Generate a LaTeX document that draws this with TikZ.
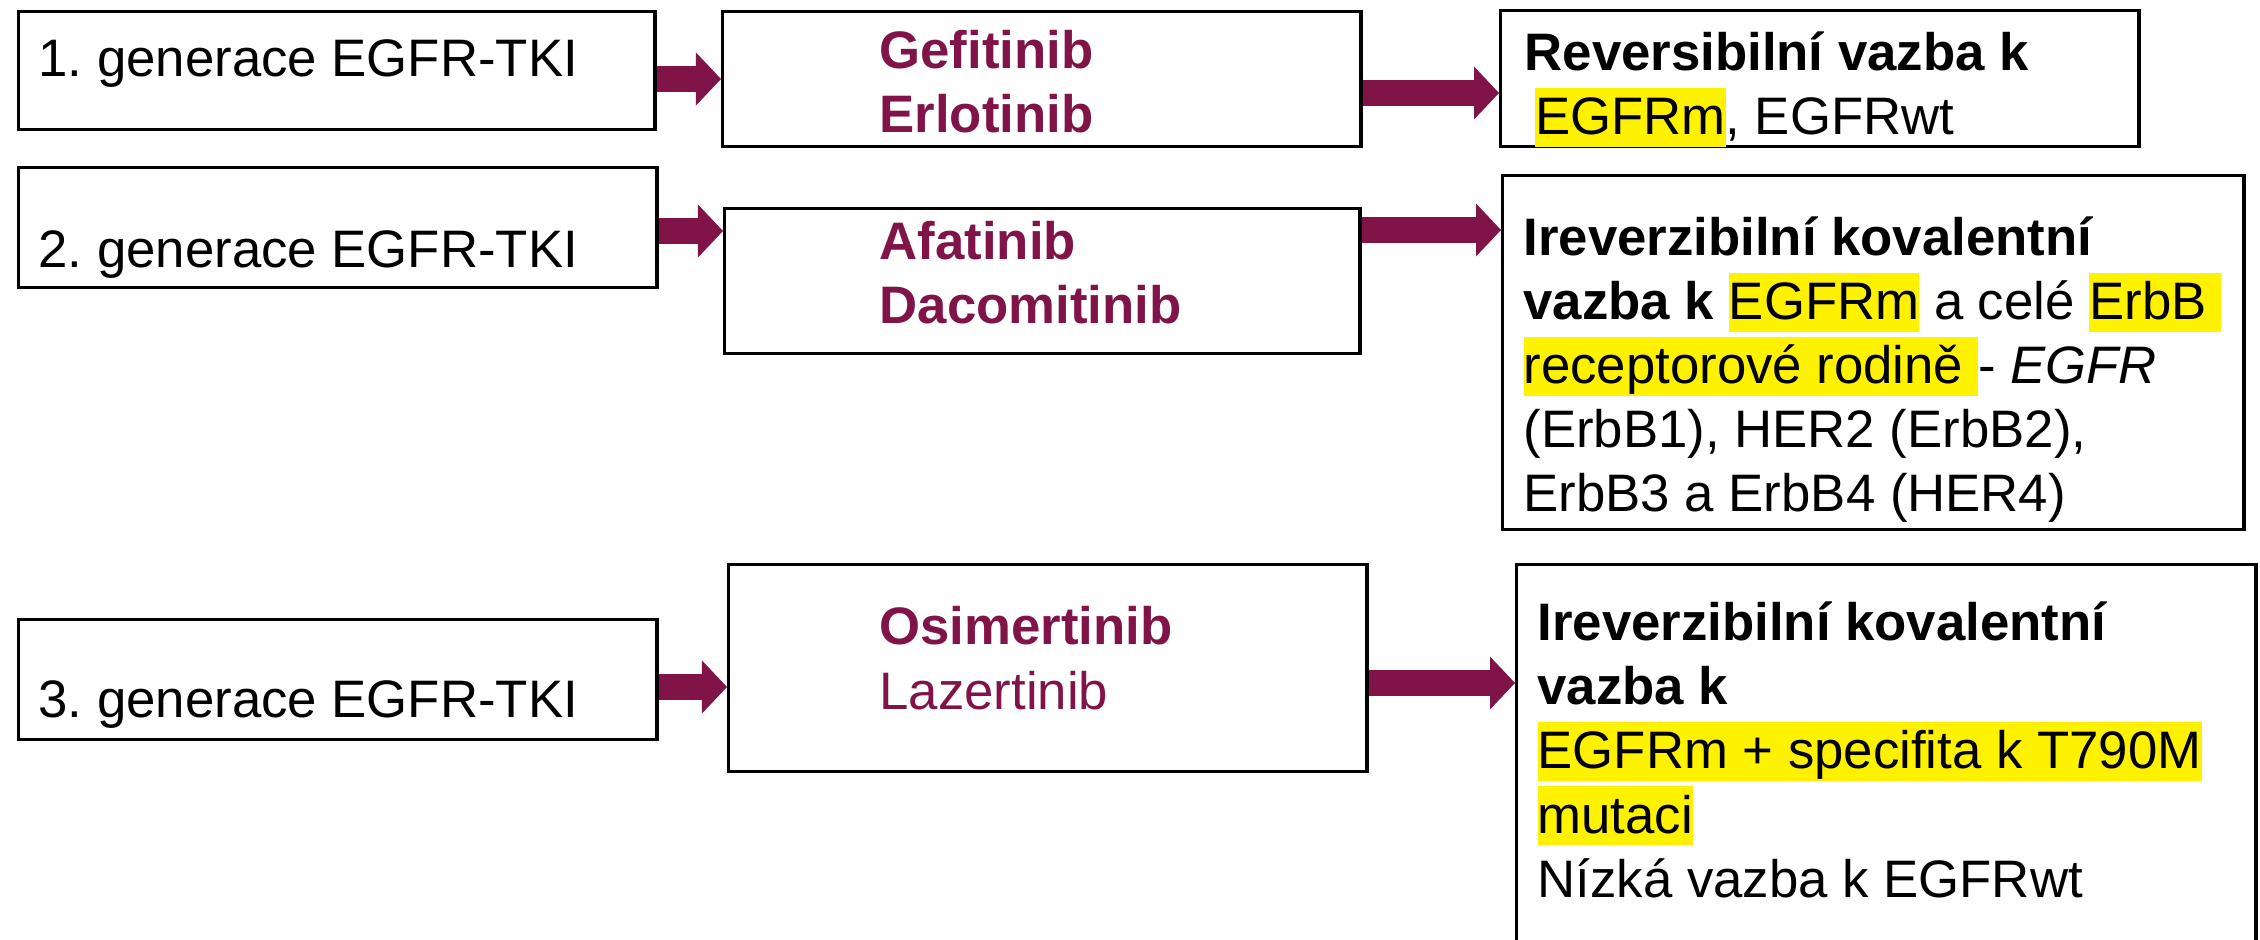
\documentclass[tikz,border=0pt]{standalone}
\usepackage{fontspec}
\setmainfont{Liberation Sans}
\usetikzlibrary{arrows.meta}
\definecolor{drug}{RGB}{128,20,72}
\newcommand{\hl}[1]{{\setlength{\fboxsep}{0pt}\colorbox{yellow}{\rule[-0.23em]{0pt}{1.13em}#1}}}
\frenchspacing

\begin{document}
\begin{tikzpicture}[x=0.01cm, y=-0.01cm, line width=0.9pt,
  box/.style={draw, anchor=north west, inner sep=0pt},
  txt/.style={anchor=base west, align=left, inner sep=0pt, font=\fontsize{15pt}{18.2pt}\selectfont},
  fwd/.style={draw=drug, line width=0.26cm, -{Triangle[length=0.25cm, width=0.53cm, line width=0pt]}}]
  \clip (0,0) rectangle (2260,940);

  \node[box, minimum width=6.36cm, minimum height=1.18cm] (gen1) at (17,10) {};
  \node[box, minimum width=6.38cm, minimum height=1.2cm] (gen2) at (17,166) {};
  \node[box, minimum width=6.38cm, minimum height=1.2cm] (gen3) at (17,618) {};
  \node[txt] (gen1t) at (37,77) {1. generace EGFR-TKI};
  \node[txt] (gen2t) at (37,268) {2. generace EGFR-TKI};
  \node[txt] (gen3t) at (37,717) {3. generace EGFR-TKI};

  \node[box, minimum width=6.38cm, minimum height=1.35cm] (drug1) at (721,10) {};
  \node[box, minimum width=6.35cm, minimum height=1.45cm] (drug2) at (723,207) {};
  \node[box, minimum width=6.38cm, minimum height=2.07cm] (drug3) at (727,563) {};
  \node[txt, text=drug] (drug1t) at (878,133) {\textbf{Gefitinib}\\\textbf{Erlotinib}};
  \node[txt, text=drug] (drug2t) at (878,324) {\textbf{Afatinib}\\\textbf{Dacomitinib}};
  \node[txt, text=drug] (drug3t) at (878,709) {\textbf{Osimertinib}\\Lazertinib};

  \node[box, minimum width=6.38cm, minimum height=1.36cm] (bind1) at (1499,9) {};
  \node[box, minimum width=7.41cm, minimum height=3.54cm] (bind2) at (1501,174) {};
  \node[box, minimum width=7.39cm, minimum height=4.2cm] (bind3) at (1515,563) {};
  \node[txt] (bind1t) at (1523,135) {\textbf{Reversibilní vazba k}\\\hspace*{0.2em}\hl{EGFRm}, EGFRwt};
  \node[txt] (bind2t) at (1522,512) {\textbf{Ireverzibilní kovalentní}\\\textbf{vazba k} \hl{EGFRm} a celé \hl{ErbB }\\\hl{receptorové rodině }- \textit{EGFR}\\(ErbB1), HER2 (ErbB2),\\ErbB3 a ErbB4 (HER4)};
  \node[txt] (bind3t) at (1536,897) {\textbf{Ireverzibilní kovalentní}\\\textbf{vazba k}\\\hl{EGFRm + specifita k T790M}\\\hl{mutaci}\\Nízká vazba k EGFRwt};

  \draw[fwd] (gen1.east |- 0,79) -- (drug1.west |- 0,79);
  \draw[fwd] (gen2.east |- 0,231) -- (drug2.west |- 0,231);
  \draw[fwd] (gen3.east |- 0,687) -- (drug3.west |- 0,687);
  \draw[fwd] (drug1.east |- 0,93) -- (bind1.west |- 0,93);
  \draw[fwd] (drug2.east |- 0,230) -- (bind2.west |- 0,230);
  \draw[fwd] (drug3.east |- 0,683) -- (bind3.west |- 0,683);
\end{tikzpicture}
\end{document}
